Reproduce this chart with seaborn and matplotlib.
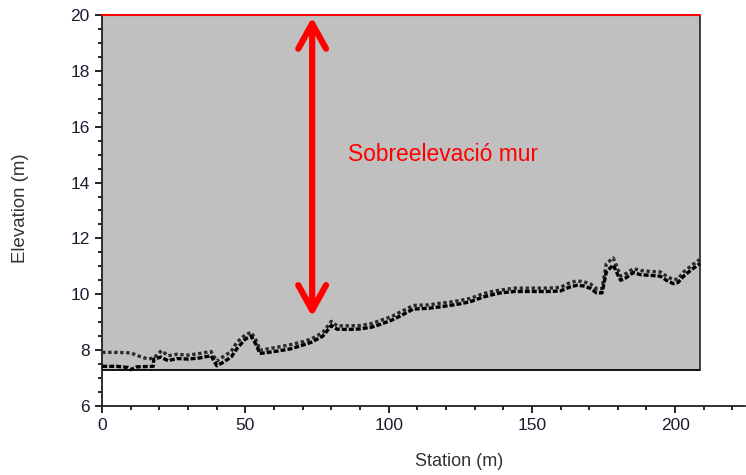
import numpy as np
import pandas as pd
import seaborn as sns
import matplotlib.pyplot as plt
from matplotlib.ticker import MultipleLocator

# profile data
station_top = [0, 5, 10, 13, 16, 18, 20.7, 23, 26, 30, 34, 38, 40, 42, 45, 47, 50, 52, 54, 55,
               58, 62, 66, 70, 73, 77, 80, 82, 86, 90, 94, 97, 101, 104, 108.6, 114, 118, 121.4,
               125, 128.4, 133, 136, 139, 144, 150, 156, 160, 163, 165.6, 168, 170.3, 172.6,
               174.5, 176, 178.4, 180, 181, 183, 185.4, 188, 191, 194.8, 197, 199.4, 201, 203,
               206, 208.7]
elev_top = [7.92, 7.92, 7.9, 7.78, 7.68, 7.72, 7.98, 7.8, 7.85, 7.82, 7.88, 7.95, 7.6, 7.75, 7.95,
            8.28, 8.55, 8.64, 8.3, 8.0, 8.05, 8.12, 8.2, 8.3, 8.4, 8.63, 9.03, 8.87, 8.87, 8.88,
            8.95, 9.06, 9.2, 9.36, 9.6, 9.62, 9.68, 9.72, 9.78, 9.85, 10.02, 10.1, 10.15, 10.22,
            10.22, 10.22, 10.25, 10.4, 10.48, 10.45, 10.38, 10.2, 10.2, 11.1, 11.3, 10.9, 10.65,
            10.75, 10.92, 10.85, 10.82, 10.8, 10.65, 10.52, 10.55, 10.8, 11.05, 11.25]

station_low = [0, 5, 9, 10, 12, 17.8, 18, 20.5, 23, 26, 30, 34, 38, 40, 42, 45, 47, 50, 52, 54, 55,
               58, 62, 66, 70, 73, 77, 80, 82, 86, 90, 94, 97, 101, 104, 108.6, 114, 118, 121.4,
               125, 128.4, 133, 136, 139, 144, 150, 156, 160, 163, 165.6, 168, 170.3, 172.6,
               174.5, 176, 178.4, 180, 181, 183, 185.4, 188, 191, 194.8, 197, 199.4, 201, 203,
               206, 208.7]
elev_low = [7.42, 7.42, 7.38, 7.3, 7.4, 7.42, 7.68, 7.75, 7.62, 7.7, 7.68, 7.72, 7.8, 7.44, 7.55,
            7.75, 8.05, 8.4, 8.5, 8.15, 7.88, 7.92, 7.98, 8.05, 8.18, 8.28, 8.5, 8.88, 8.75, 8.74,
            8.76, 8.82, 8.92, 9.07, 9.22, 9.47, 9.5, 9.55, 9.6, 9.66, 9.73, 9.9, 9.98, 10.05,
            10.1, 10.1, 10.1, 10.12, 10.25, 10.32, 10.3, 10.22, 10.05, 10.05, 10.8, 11.05, 10.7,
            10.5, 10.6, 10.78, 10.7, 10.68, 10.65, 10.5, 10.38, 10.42, 10.65, 10.9, 11.1]

box_x = [0, 208.7]
box_bottom = 7.3
wall_top = 20
arrow_x = 73.3
arrow_bottom = 9.2
label_text = 'Sobreelevació mur'

sns.set_style('ticks')
plt.rcParams['font.family'] = ['Liberation Sans', 'DejaVu Sans']

fig = plt.figure(figsize=(7.46, 4.75), dpi=100)
ax = fig.add_axes([0.137, 0.1453, 0.862, 0.8231])

# gray area
ax.fill_between(box_x, [box_bottom, box_bottom], [wall_top, wall_top], color='#c0c0c0', lw=0, zorder=1)
ax.plot(box_x, [box_bottom, box_bottom], color='black', lw=1.3, zorder=2)
ax.plot([box_x[1], box_x[1]], [box_bottom, wall_top], color='#303030', lw=1.3, zorder=2)
ax.plot(box_x, [wall_top, wall_top], color='red', lw=1.5, zorder=3, clip_on=False)

sns.lineplot(x=station_top, y=elev_top, sort=False, estimator=None, ax=ax, color='#2a2a2a',
             lw=2.4, linestyle=(0, (1, 0.8)), zorder=4)
sns.lineplot(x=station_low, y=elev_low, sort=False, estimator=None, ax=ax, color='black',
             lw=2.4, linestyle=(0, (1.5, 0.6)), zorder=5)

ax.annotate('', xy=(arrow_x, arrow_bottom), xytext=(arrow_x, wall_top - 0.08),
            arrowprops=dict(arrowstyle='<->, head_length=0.9, head_width=0.5', color='red',
                            lw=4.5, shrinkA=0, shrinkB=0, mutation_scale=20,
                            capstyle='round', joinstyle='round'), zorder=6)
ax.text(85.8, 15.0, label_text, color='red', fontsize=16.4, ha='left', va='center', zorder=6)

ax.set_xlim(0, 224.5)
ax.set_ylim(6, 20)
ax.set_xticks([0, 50, 100, 150, 200])
ax.set_yticks([6, 8, 10, 12, 14, 16, 18, 20])
ax.xaxis.set_minor_locator(MultipleLocator(10))
ax.yaxis.set_minor_locator(MultipleLocator(0.5))
ax.tick_params(which='major', direction='out', length=5, width=1.2, labelsize=12.5,
               colors='black', labelcolor='#1c1c30', pad=4)
ax.tick_params(which='minor', direction='out', length=3, width=1.2, colors='black')
for s in ['top', 'right']:
    ax.spines[s].set_visible(False)
for s in ['left', 'bottom']:
    ax.spines[s].set_linewidth(1.3)
    ax.spines[s].set_color('#202020')

ax.set_xlabel('Station (m)', fontsize=13, color='#333333', va='center')
ax.xaxis.set_label_coords(0.555, -0.143)
ax.set_ylabel('Elevation (m)', fontsize=13.4, color='#333333', va='center')
ax.yaxis.set_label_coords(-0.1275, 0.506)

plt.savefig('out.png', dpi=100)
